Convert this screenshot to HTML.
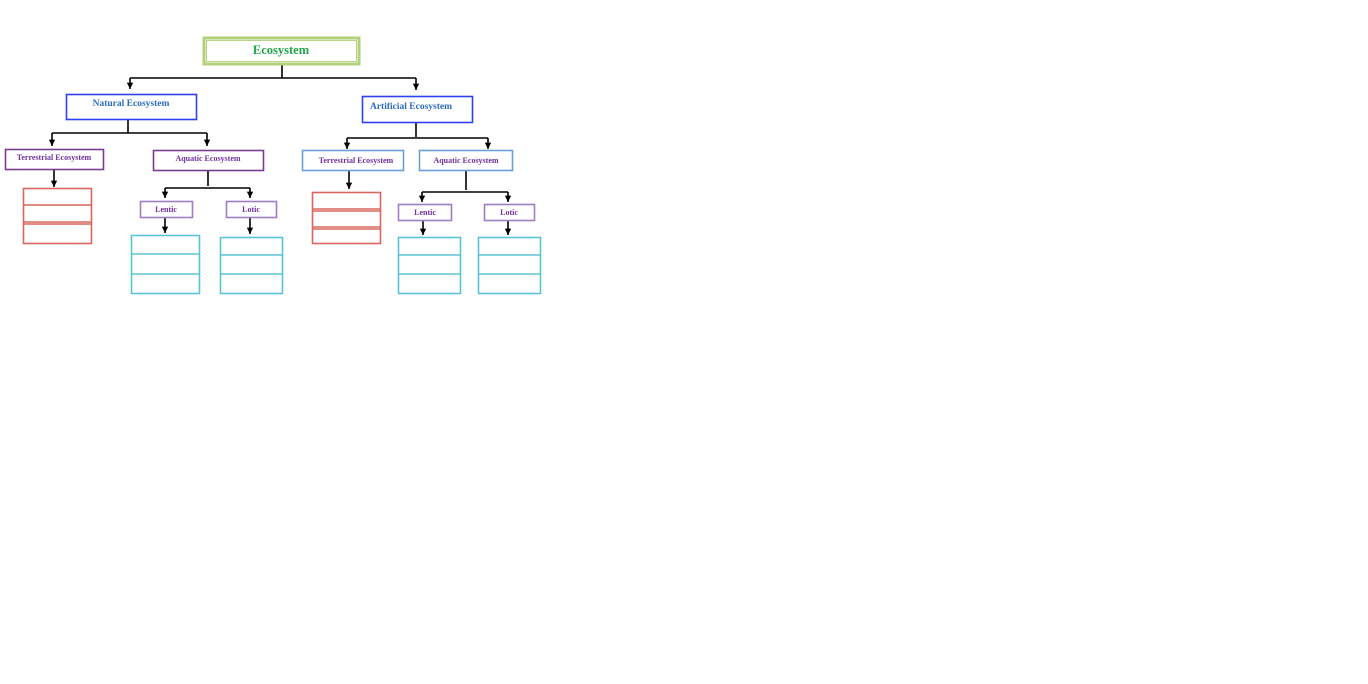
<!DOCTYPE html>
<html><head><meta charset="utf-8"><style>
html,body{margin:0;padding:0;background:#fff;width:1368px;height:684px;overflow:hidden}
svg text{font-family:"Liberation Serif",serif;font-weight:bold;text-anchor:middle}
</style></head><body>
<svg width="1368" height="684" viewBox="0 0 1368 684" xmlns="http://www.w3.org/2000/svg">
<defs><marker id="a" viewBox="0 0 6 6" refX="6" refY="3" markerWidth="4" markerHeight="4" orient="auto"><path d="M0,0 L6,3 L0,6z" fill="#000"/></marker></defs>
<g fill="none" stroke="#000" stroke-width="1.6">
<path d="M282,64V78M130,78H416"/><path d="M130,78V89" marker-end="url(#a)"/><path d="M416,78V90" marker-end="url(#a)"/>
<path d="M128,119V133M52,133H207"/><path d="M52,133V146" marker-end="url(#a)"/><path d="M207,133V146" marker-end="url(#a)"/>
<path d="M54,169V187" marker-end="url(#a)"/>
<path d="M208,171V186M165,188H250"/><path d="M165,188V198" marker-end="url(#a)"/><path d="M250,188V198" marker-end="url(#a)"/>
<path d="M165,218V233" marker-end="url(#a)"/><path d="M250,218V234" marker-end="url(#a)"/>
<path d="M416,122V137M347,138H488"/><path d="M347,138V149" marker-end="url(#a)"/><path d="M488,138V149" marker-end="url(#a)"/>
<path d="M349,171V189" marker-end="url(#a)"/>
<path d="M466,171V190M422,192H508"/><path d="M422,192V202" marker-end="url(#a)"/><path d="M508,192V202" marker-end="url(#a)"/>
<path d="M423,220V235" marker-end="url(#a)"/><path d="M508,220V235" marker-end="url(#a)"/>
</g>
<rect x="204" y="38" width="155" height="26" fill="none" stroke="#b3d17a" stroke-width="3"/>
<rect x="206.5" y="40.5" width="150" height="21" fill="none" stroke="#a9c96a" stroke-width="0.8"/>
<text x="281" y="54" font-size="12.5" fill="#1fa64a">Ecosystem</text>
<g fill="none" stroke="#2e3ff5" stroke-width="1.6">
<rect x="66.5" y="94.5" width="130" height="25"/><rect x="362.5" y="96.5" width="110" height="26"/></g>
<text x="131" y="106" font-size="9.5" fill="#2c6cc4">Natural Ecosystem</text>
<text x="411" y="109" font-size="9.5" fill="#2c6cc4">Artificial Ecosystem</text>
<g fill="none" stroke="#7b3b8f" stroke-width="1.6">
<rect x="5.5" y="149.5" width="98" height="20"/><rect x="153.5" y="150.5" width="110" height="20"/></g>
<g fill="none" stroke="#6a9fd8" stroke-width="1.6">
<rect x="302.5" y="150.5" width="101" height="20"/><rect x="419.5" y="150.5" width="93" height="20"/></g>
<g font-size="8" fill="#7030a0">
<text x="54" y="160">Terrestrial Ecosystem</text>
<text x="208" y="161">Aquatic Ecosystem</text>
<text x="356" y="163">Terrestrial Ecosystem</text>
<text x="466" y="163">Aquatic Ecosystem</text>
<text x="166" y="212">Lentic</text><text x="251" y="212">Lotic</text>
<text x="425" y="215">Lentic</text><text x="509" y="215">Lotic</text>
</g>
<g fill="none" stroke="#9f7ec4" stroke-width="1.6">
<rect x="140.5" y="201.5" width="52" height="16"/><rect x="226.5" y="201.5" width="50" height="16"/>
<rect x="398.5" y="204.5" width="53" height="16"/><rect x="484.5" y="204.5" width="50" height="16"/></g>
<g fill="none" stroke="#d9675f" stroke-width="1.6">
<rect x="23.5" y="188.5" width="68" height="55"/><path d="M23,205H91M23,222H91M23,224H91"/>
<rect x="312.5" y="192.5" width="68" height="51"/><path d="M312,209H380M312,211H380M312,227H380M312,229H380"/></g>
<g fill="none" stroke="#5bc3d6" stroke-width="1.6">
<rect x="131.5" y="235.5" width="68" height="58"/><path d="M131,254H199M131,274H199"/>
<rect x="220.5" y="237.5" width="62" height="56"/><path d="M220,255H282M220,274H282"/>
<rect x="398.5" y="237.5" width="62" height="56"/><path d="M398,255H460M398,274H460"/>
<rect x="478.5" y="237.5" width="62" height="56"/><path d="M478,255H540M478,274H540"/></g>
</svg>
</body></html>
